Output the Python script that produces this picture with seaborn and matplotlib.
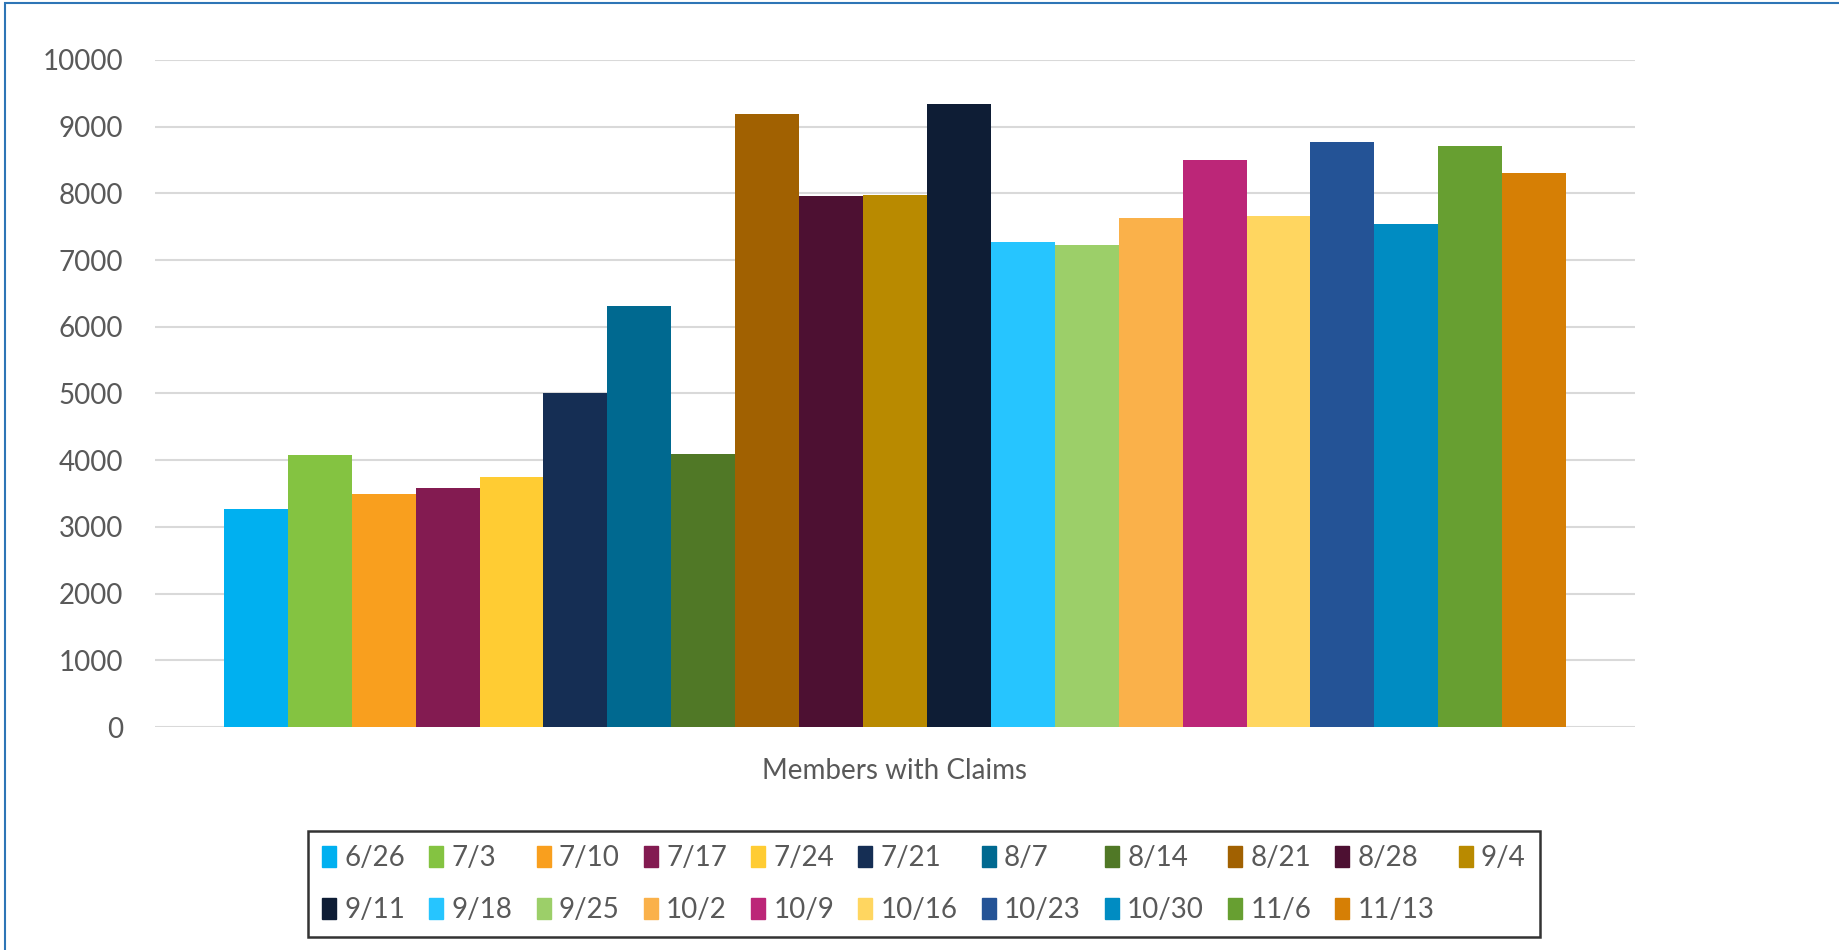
import pandas as pd
import seaborn as sns
import matplotlib.pyplot as plt
from matplotlib.patches import Rectangle

# weekly snapshot dates and their "members with claims" counts
dates = ["6/26", "7/3", "7/10", "7/17", "7/24", "7/21", "8/7", "8/14", "8/21", "8/28", "9/4",
         "9/11", "9/18", "9/25", "10/2", "10/9", "10/16", "10/23", "10/30", "11/6", "11/13"]
members = [3270, 4075, 3490, 3580, 3745, 5005, 6310, 4090, 9190, 7960, 7975,
           9340, 7265, 7220, 7625, 8500, 7655, 8770, 7535, 8710, 8305]
colors = ["#00B0F0", "#84C341", "#F99F1E", "#831B51", "#FFCC33", "#152E54", "#006990",
          "#507826", "#A16101", "#4D1032", "#B98A00", "#0E1D35", "#26C5FF", "#9CCF69",
          "#FAB14A", "#BC2678", "#FFD660", "#245396", "#008CC2", "#679F31", "#D67F05"]
category = "Members with Claims"
yticks = list(range(0, 10001, 1000))

df = pd.DataFrame({"metric": category, "date": dates, "members": members})

sns.set_style("white")
plt.rcParams["font.family"] = ["Lato", "DejaVu Sans"]
text_col = "#595959"

fig = plt.figure(figsize=(18.39, 9.5), dpi=100)
ax = fig.add_axes([155 / 1839, 1 - 727 / 950, 1480 / 1839, 667 / 950])

sns.barplot(data=df, x="metric", y="members", hue="date", hue_order=dates,
            palette=colors, width=0.907, gap=0, dodge=True, saturation=1,
            errorbar=None, linewidth=0, ax=ax)

ax.set_xlim(-0.5, 0.5)
ax.set_ylim(0, 10000)
ax.set_yticks(yticks)
ax.set_yticklabels([str(v) for v in yticks])
ax.set_xlabel("")
ax.set_ylabel("")
ax.set_axisbelow(True)
ax.yaxis.grid(True, color="#D9D9D9", linewidth=1.5)
ax.xaxis.grid(False)
for s in ax.spines.values():
    s.set_visible(False)
ax.tick_params(axis="both", length=0, labelsize=20, labelcolor=text_col)
ax.tick_params(axis="y", pad=23)
ax.tick_params(axis="x", pad=22)

# legend below the plot, filled row by row (matplotlib fills columns)
ax.legend_.remove()
ncol = 11
order = []
for j in range(ncol):
    order.append(j)
    if j + ncol < len(dates):
        order.append(j + ncol)
handles = [Rectangle((0, 0), 1, 1, color=colors[i]) for i in order]
labels = [dates[i] for i in order]
leg = fig.legend(handles, labels, loc="center", bbox_to_anchor=(0.5024, 0.0695),
                 ncol=ncol, frameon=True, fancybox=False, fontsize=20,
                 handlelength=0.5, handleheight=0.8, handletextpad=0.3,
                 columnspacing=0.87, labelspacing=0.95, borderpad=0.5,
                 labelcolor=text_col)
leg.get_frame().set_edgecolor("black")
leg.get_frame().set_linewidth(1.8)

# chart-area border (only top/left visible in the original crop)
fig.patches.append(Rectangle((5 / 1839, -0.1), 1.2, 1 - 3 / 950 + 0.1,
                             transform=fig.transFigure, fill=False,
                             edgecolor="#2E75B6", linewidth=1.5))

fig.savefig("out.png", dpi=100)
